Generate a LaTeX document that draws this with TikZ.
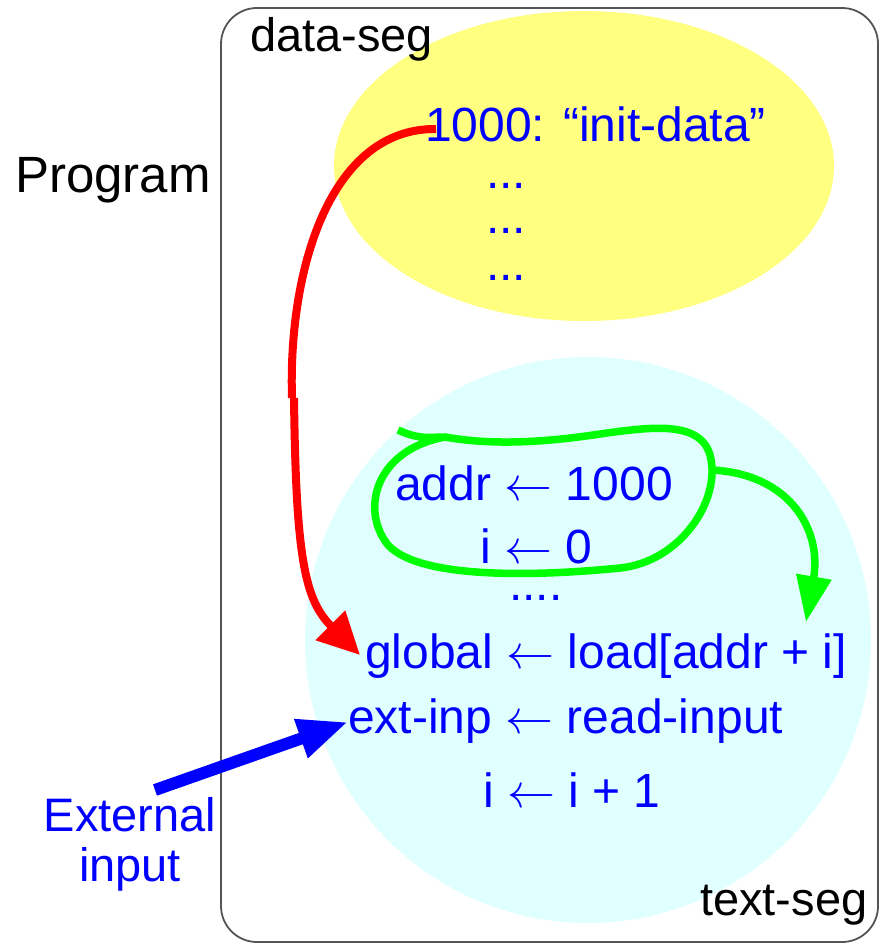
\documentclass[tikz,border=0pt]{standalone}
\usepackage{fix-cm}
\usepackage{fontspec}
\setmainfont{Liberation Sans}
\usetikzlibrary{arrows.meta}
\definecolor{segyellow}{HTML}{FFFF80}
\definecolor{segcyan}{HTML}{E0FFFF}
\definecolor{frame}{HTML}{555555}
\tikzset{
  lbl/.style={font=\fontsize{47}{56}\selectfont, inner sep=0pt, anchor=base west},
  bluelbl/.style={lbl, text=blue, font=\fontsize{48}{56}\selectfont},
  redarrow/.style={red, line width=8pt, -{Triangle[length=42pt,width=40pt]}},
  greenline/.style={green, line width=7.5pt},
  greenarrow/.style={green, line width=7.5pt, -{Triangle[length=46pt,width=34pt]}},
  bluearrow/.style={blue, line width=12pt, -{Triangle[length=50pt,width=38pt]}}
}
\newcommand{\la}{ $\leftarrow$ }
\begin{document}
\begin{tikzpicture}[x=1pt,y=-1pt]
\useasboundingbox (0,0) rectangle (882,944);
% segments
\fill[segyellow] (584,166) ellipse [x radius=250, y radius=155];
\fill[segcyan] (588,640) circle [radius=283];
\draw[frame, line width=1.8pt, rounded corners=36pt] (221,8) rectangle (878,942);
% labels
\node[lbl] (dataseg) at (250,52) {data-seg};
\node[lbl, font=\fontsize{51}{56}\selectfont] (program) at (15,193) {Program};
\node[lbl] (textseg) at (700,915) {text-seg};
\node[bluelbl] (init) at (425,142) {1000: “init-data”};
\node[bluelbl] (d1) at (486,188) {...};
\node[bluelbl] (d2) at (486,233) {...};
\node[bluelbl] (d3) at (486,280) {...};
\node[bluelbl] (addr) at (395,500) {addr\la 1000};
\node[bluelbl] (izero) at (480,563) {i\la 0};
\node[bluelbl] (dots) at (509,600) {....};
\node[bluelbl] (global) at (365,668) {global\la load[addr + i]};
\node[bluelbl] (extinp) at (348,733) {ext-inp\la read-input};
\node[bluelbl] (incr) at (483,807) {i\la i + 1};
\node[text=blue, font=\fontsize{47}{50}\selectfont, align=center, inner sep=0pt, anchor=north] (ext) at (130,797) {External\\input};
% connector points
\coordinate (rstart) at ([xshift=11pt,yshift=13pt]init.base west);
\coordinate (rmid) at (292,398);
\coordinate (rend) at ([xshift=-5pt,yshift=13pt]global.base west);
\coordinate (gstart) at (398,430);
\coordinate (gout) at (712,470);
\coordinate (gend) at (806,622);
\coordinate (bstart) at (155,790);
\coordinate (bend) at ([yshift=11pt]extinp.base west);
% red arrow
\draw[red, line width=8pt] (rstart) .. controls (330,128) and (288,270) .. (rmid);
\draw[redarrow] ([xshift=2pt]rmid) .. controls (296,560) and (305,600) .. (rend);
% green loop
\draw[greenline] (gstart) .. controls (420,440) and (430,437) .. (445,437)
  .. controls (500,447) and (560,440) .. (600,434)
  .. controls (650,427) and (700,420) .. (710,455)
  .. controls (722,500) and (680,562) .. (620,568)
  .. controls (540,576) and (420,580) .. (388,545)
  .. controls (360,510) and (375,450) .. (445,437);
\draw[greenarrow] (gout) .. controls (790,474) and (822,530) .. (gend);
% blue arrow
\draw[bluearrow] (bstart) -- (bend);
\end{tikzpicture}
\end{document}
